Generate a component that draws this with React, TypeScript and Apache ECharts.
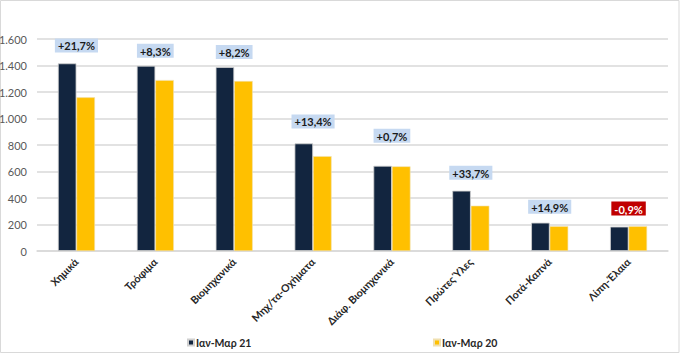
import React, { useEffect, useRef } from "react";
import * as echarts from "echarts";

const categories = [
  "Χημικά",
  "Τρόφιμα",
  "Βιομηχανικά",
  "Μηχ/τα-Οχήματα",
  "Διάφ. Βιομηχανικά",
  "Πρώτες Ύλες",
  "Ποτά-Καπνά",
  "Λίπη-Έλαια",
];
const series21 = [1416, 1398, 1388, 812, 643, 455, 214, 184];
const series20 = [1160, 1290, 1283, 716, 639, 342, 187, 187];
const changeLabels = ["+21,7%", "+8,3%", "+8,2%", "+13,4%", "+0,7%", "+33,7%", "+14,9%", "-0,9%"];
const yTicks = { min: 0, max: 1600, interval: 200 };
const seriesNames = ["Ιαν-Μαρ 21", "Ιαν-Μαρ 20"];

// label gap above the dark bar (px), styling only
const labelGap = [10, 7, 7, 14, 22, 10, 8, 10];

const FONT = "Lato";

export default function App() {
  const ref = useRef<HTMLDivElement>(null);
  useEffect(() => {
    if (!ref.current) return;
    const chart = echarts.init(ref.current, undefined, { renderer: "svg" });
    const gridLeft = 37;
    const gridRight = 680 - 668;
    const catW = (680 - gridLeft - gridRight) / categories.length;
    const barW = catW * 0.235;

    const fmtNum = (v: number) =>
      v >= 1000 ? `${Math.floor(v / 1000)}.${String(v % 1000).padStart(3, "0")}` : String(v);

    const legendText = {
      fontFamily: FONT,
      fontWeight: "bold",
      fontSize: 10.5,
      color: "#262626",
      padding: [0, 0, 0, -3],
    };

    chart.setOption({
      animation: false,
      backgroundColor: "#ffffff",
      textStyle: { fontFamily: FONT },
      graphic: [
        {
          type: "rect",
          shape: { x: 0.5, y: 0.5, width: 678.5, height: 352 },
          style: { fill: "none", stroke: "#d9d9d9", lineWidth: 1 },
          silent: true,
        },
      ],
      grid: {
        left: gridLeft,
        right: gridRight,
        top: 39,
        bottom: 355 - 251,
        containLabel: false,
        outerBoundsMode: "none",
      },
      legend: [
        {
          data: [seriesNames[0]],
          left: 187,
          top: 337,
          padding: 0,
          icon: "rect",
          itemWidth: 6,
          itemHeight: 6,
          itemGap: 0,
          textStyle: legendText,
        },
        {
          data: [seriesNames[1]],
          left: 433,
          top: 337,
          padding: 0,
          icon: "rect",
          itemWidth: 6,
          itemHeight: 6,
          itemGap: 0,
          textStyle: legendText,
        },
      ],
      xAxis: {
        type: "category",
        data: categories,
        axisLine: { show: true, lineStyle: { color: "#d9d9d9", width: 1.5 } },
        axisTick: { show: false },
        axisLabel: {
          rotate: 45,
          interval: 0,
          margin: 9,
          fontFamily: FONT,
          fontWeight: "bold",
          fontSize: 10.5,
          color: "#262626",
        },
      },
      yAxis: {
        type: "value",
        min: yTicks.min,
        max: yTicks.max,
        interval: yTicks.interval,
        axisLine: { show: false },
        axisTick: { show: false },
        splitLine: { lineStyle: { color: "#d9d9d9", width: 1.5 } },
        axisLabel: {
          margin: 10,
          fontFamily: FONT,
          fontSize: 11,
          color: "#595959",
          formatter: (v: number) => fmtNum(v),
        },
      },
      series: [
        {
          name: seriesNames[0],
          type: "bar",
          data: series21.map((v, i) => ({
            value: v,
            label: {
              show: true,
              position: "top",
              offset: [barW / 2, -labelGap[i] + 4],
              formatter: changeLabels[i],
              fontFamily: FONT,
              fontWeight: "bold",
              fontSize: 11,
              color: changeLabels[i].startsWith("-") ? "#ffffff" : "#1a1a1a",
              backgroundColor: changeLabels[i].startsWith("-") ? "#c00000" : "#c6d9f1",
              padding: [2, 3, 1, 3],
            },
          })),
          barWidth: barW,
          barGap: "0%",
          itemStyle: { color: "#12253f", borderColor: "#d0d0d0", borderWidth: 0.8 },
        },
        {
          name: seriesNames[1],
          type: "bar",
          data: series20,
          barWidth: barW,
          barGap: "0%",
          itemStyle: { color: "#ffc000", borderColor: "#f0e0b0", borderWidth: 0.6 },
        },
      ],
    });
    return () => chart.dispose();
  }, []);
  return (
    <div
      ref={ref}
      style={{ position: "fixed", left: 0, top: 0, width: 680, height: 355 }}
    />
  );
}
